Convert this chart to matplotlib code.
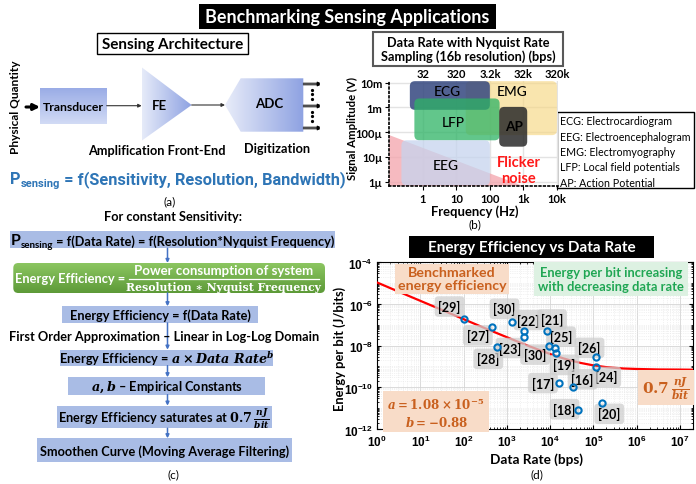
import numpy as np
import matplotlib
matplotlib.use('Agg')
import matplotlib.pyplot as plt
from matplotlib.patches import Rectangle, Polygon, FancyBboxPatch
from matplotlib.colors import LinearSegmentedColormap
from matplotlib.ticker import FixedLocator, FuncFormatter, NullFormatter

plt.rcParams['font.family'] = ['Lato', 'DejaVu Sans']
plt.rcParams['mathtext.fontset'] = 'custom'
plt.rcParams['mathtext.rm'] = 'DejaVu Serif:bold'
plt.rcParams['mathtext.it'] = 'DejaVu Serif:italic:bold'
plt.rcParams['mathtext.bf'] = 'Liberation Sans:bold'

# ---- (b) signal ranges ----
signals = ['EMG', 'ECG', 'LFP', 'AP', 'EEG']
freq_lo = [19, 0.41, 0.56, 190, 0.23]
freq_hi = [1.0e4, 100, 195, 1300, 100]
amp_lo = [7.6e-5, 8.0e-4, 4.7e-5, 2.6e-5, 7.2e-7]
amp_hi = [1.15e-2, 1.15e-2, 2.3e-3, 1.05e-3, 4.7e-5]
noise_f = [0.1, 0.1, 1000]
noise_amp = [7.6e-5, 6.9e-7, 6.9e-7]
freq_ticks = [1, 10, 100, 1000, 10000]
freq_labels = ['1', '10', '100', '1k', '10k']
amp_ticks = [1e-6, 1e-5, 1e-4, 1e-3, 1e-2]
amp_labels = ['1µ', '10µ', '100µ', '1m', '10m']
rate_ticks = [32, 320, 3200, 32000, 320000]
rate_labels = ['32', '320', '3.2k', '32k', '320k']
legend_lines = ['ECG: Electrocardiogram', 'EEG: Electroencephalogram', 'EMG: Electromyography',
                'LFP: Local field potentials', 'AP: Action Potential']

# ---- (d) benchmark points ----
refs = ['[29]', '[27]', '[28]', '[30]', '[22]', '[23]', '[21]', '[30]', '[25]', '[19]',
        '[26]', '[24]', '[17]', '[16]', '[18]', '[20]']
data_rate = [100, 450, 600, 1350, 2550, 2550, 8500, 9500, 13000, 14000,
             1.12e5, 1.16e5, 1.6e4, 3.3e4, 4.3e4, 1.6e5]
energy = [2e-7, 7.5e-8, 8.7e-9, 1.4e-7, 5e-8, 2.6e-8, 4.8e-8, 1e-8, 8e-9, 4.5e-9,
          2.9e-9, 9.5e-10, 1.6e-10, 1e-10, 8e-12, 1.8e-11]
curve_rate = [1, 3.16, 10, 31.6, 100, 316, 1e3, 3.16e3, 1e4, 2e4, 3.16e4, 5e4, 1e5, 2e5,
              3.16e5, 5e5, 1e6, 3.16e6, 1e7, 2e7]
curve_energy = [1.08e-5, 3.9e-6, 1.42e-6, 5.2e-7, 1.87e-7, 6.8e-8, 2.54e-8, 9.7e-9, 3.96e-9,
                2.47e-9, 1.88e-9, 1.49e-9, 1.13e-9, 9.3e-10, 8.6e-10, 8.0e-10, 7.6e-10,
                7.2e-10, 7.1e-10, 7.0e-10]

W, H = 696, 485
fig = plt.figure(figsize=(W / 100, H / 100), dpi=100)
ax0 = fig.add_axes([0, 0, 1, 1])
ax0.axis('off')


def fbox(x0, y0, x1, y1):
    return [x0 / W, 1 - y1 / H, (x1 - x0) / W, (y1 - y0) / H]


def gradient_fill(patch, extent, c0, c1, vertical=False):
    ax0.add_patch(patch)
    g = np.linspace(0, 1, 200)
    img = g[:, None] if vertical else g[None, :]
    im = ax0.imshow(img, cmap=LinearSegmentedColormap.from_list('g', [c0, c1]), extent=extent,
                    origin='lower', aspect='auto', interpolation='bicubic', zorder=1)
    im.set_clip_path(patch)


def arrow(x0, y0, x1, y1, color='#333333', lw=0.8, ms=6):
    ax0.annotate('', xy=(x1, y1), xytext=(x0, y0),
                 arrowprops=dict(arrowstyle='-|>', color=color, lw=lw, mutation_scale=ms,
                                 shrinkA=0, shrinkB=0), zorder=3)


# ---- main title ----
ax0.add_patch(Rectangle((199, 5), 297, 24.5, fc='black', ec='none'))
ax0.text(347.5, 17.5, 'Benchmarking Sensing Applications', color='white', fontsize=12.9,
         weight='bold', ha='center', va='center')

# ---- (a) sensing architecture ----
ax0.add_patch(Rectangle((96.7, 34), 151.6, 21, fc='white', ec='black', lw=1))
ax0.text(172.5, 44.5, 'Sensing Architecture', fontsize=11, weight='bold', ha='center', va='center')

gradient_fill(Rectangle((40, 89), 66.7, 36, fc='none', ec='none'), (40, 106.7, 89, 125),
              '#9AACE6', '#D2DBF5', vertical=True)
ax0.text(73.3, 107.5, 'Transducer', fontsize=8.8, weight='bold', ha='center', va='center', zorder=4)
gradient_fill(Polygon([(141.7, 68.3), (141.7, 141.7), (191.7, 106)], fc='none', ec='none'),
              (141.7, 191.7, 68.3, 141.7), '#E6EBF9', '#8EA2E2')
ax0.text(159.5, 106, 'FE', fontsize=9.5, weight='bold', ha='center', va='center', zorder=4)
gradient_fill(Polygon([(225, 106), (240.7, 79.3), (303.3, 79.3), (303.3, 132.7), (240.7, 132.7)],
                      fc='none', ec='none'),
              (225, 303.3, 79.3, 132.7), '#E8ECF9', '#8EA2E2')
ax0.text(269.5, 104.5, 'ADC', fontsize=9.5, weight='bold', ha='center', va='center', zorder=4)

arrow(26, 108, 40, 108, color='black', lw=2.2, ms=9)
arrow(106.7, 106.7, 141.7, 106.7, lw=0.8, ms=5)
arrow(191.7, 106, 225, 106, lw=0.8, ms=5)
for yy in (85, 107, 129):
    arrow(303.3, yy - 0.8, 320.5, yy - 0.8, color='black', lw=0.7, ms=4)
    arrow(303.3, yy + 0.8, 320.5, yy + 0.8, color='black', lw=0.7, ms=4)
for yy in (90.5, 95, 99.5, 112.5, 117, 121.5):
    ax0.plot(311.7, yy, marker='o', ms=1.3, color='black', zorder=4)

ax0.text(15.5, 107, 'Physical Quantity', rotation=90, fontsize=8.6, weight='bold',
         ha='center', va='center')
ax0.text(156.7, 150.7, 'Amplification Front-End', fontsize=9.2, weight='bold', ha='center', va='center')
ax0.text(277.3, 149.3, 'Digitization', fontsize=9.2, weight='bold', ha='center', va='center')

blue = '#2E75B6'
narrow = ['Roboto', 'DejaVu Sans']
p1 = ax0.text(10, 184, 'P', fontsize=11.8, weight='bold', color=blue, va='baseline', family=narrow)
p2 = ax0.annotate('sensing', xy=(1, 187.5), xycoords=(p1, 'data'), fontsize=8, weight='bold',
                  color=blue, va='baseline', family=narrow)
ax0.annotate(' = f(Sensitivity, Resolution, Bandwidth)', xy=(1, 184), xycoords=(p2, 'data'),
             fontsize=11.8, weight='bold', color=blue, va='baseline', family=narrow)
ax0.text(169.3, 201.7, '(a)', fontsize=8.5, ha='center', va='center')

# ---- (c) flow ----
box_blue = '#A9BCE5'
flow_arrow = '#4472C4'
fs_c = 9.2
ax0.text(173.3, 216.7, 'For constant Sensitivity:', fontsize=fs_c, weight='bold', ha='center', va='center')
ax0.add_patch(Rectangle((10, 231.7), 325, 17.6, fc=box_blue, ec='none'))
c1 = ax0.text(11, 245.5, 'P', fontsize=11.5, weight='bold', va='baseline')
c2 = ax0.annotate('sensing', xy=(1, 248.5), xycoords=(c1, 'data'), fontsize=7, weight='bold',
                  va='baseline')
ax0.annotate(' = f(Data Rate) = f(Resolution*Nyquist Frequency)', xy=(1, 245.5),
             xycoords=(c2, 'data'), fontsize=fs_c, weight='bold', va='baseline')

gradient_fill(FancyBboxPatch((13.3, 264), 311.7, 30, boxstyle='round,pad=0,rounding_size=5',
                             fc='none', ec='none'),
              (13.3, 325, 264, 294), '#8CC661', '#5D9A38', vertical=True)
ax0.text(70, 279.5, 'Energy Efficiency =', fontsize=9.3, weight='bold', color='white',
         ha='center', va='center', zorder=4)
ax0.text(224, 271.5, 'Power consumption of system', fontsize=9.5, weight='bold', color='white',
         ha='center', va='center', zorder=4)
ax0.plot([129, 318.5], [280.3, 280.3], color='white', lw=0.9, zorder=4)
ax0.text(223, 288, 'Resolution ∗ Nyquist Frequency', fontsize=7.8, weight='bold', color='white',
         ha='center', va='center', zorder=4, family=['DejaVu Serif'])

boxes_c = [
    ((61.7, 307.3, 258.3, 324), 'Energy Efficiency = f(Data Rate)'),
    ((60, 350.7, 273.3, 366.7), r'Energy Efficiency = $a\times Data\ Rate^{b}$'),
    ((68.3, 378.3, 265, 395.7), r'$a,b$ – Empirical Constants'),
    ((56.7, 406.7, 271.7, 429.3), r'Energy Efficiency saturates at $0.7\,\frac{nJ}{bit}$'),
    ((36.7, 439.3, 291.7, 463.3), 'Smoothen Curve (Moving Average Filtering)'),
]
for (x0, y0, x1, y1), txt in boxes_c:
    ax0.add_patch(Rectangle((x0, y0), x1 - x0, y1 - y0, fc=box_blue, ec='none'))
    ax0.text((x0 + x1) / 2, (y0 + y1) / 2 + 0.5, txt, fontsize=fs_c, weight='bold',
             ha='center', va='center', zorder=4)
ax0.text(164, 336.7, 'First Order Approximation – Linear in Log-Log Domain', fontsize=fs_c,
         weight='bold', ha='center', va='center', zorder=4)
for ya, yb in [(249.3, 264), (294, 307.3), (324, 350.7), (366.7, 378.3), (395.7, 406.7), (429.3, 439.3)]:
    arrow(167.5, ya, 167.5, yb, color=flow_arrow, lw=1.1, ms=5)
ax0.text(173.3, 475, '(c)', fontsize=8.5, ha='center', va='center')

# ---- (b) signal chart ----
ax0.add_patch(Rectangle((373.3, 33.3), 189.4, 33.4, fc='white', ec='#595959', lw=1.5))
ax0.text(468, 50, 'Data Rate with Nyquist Rate\nSampling (16b resolution) (bps)', fontsize=9.2,
         weight='bold', ha='center', va='center', linespacing=1.2)

axb = fig.add_axes(fbox(389.3, 81.7, 558.3, 186.7))
axb.set_xscale('log')
axb.set_yscale('log')
axb.set_xlim(0.1, 1.1e4)
axb.set_ylim(6.9e-7, 1.2e-2)
axb.grid(True, which='major', color='#E3E3E3', lw=1)
axb.set_axisbelow(True)
for s in ('top', 'right'):
    axb.spines[s].set_visible(False)
for s in ('left', 'bottom'):
    axb.spines[s].set_linestyle(':')
    axb.spines[s].set_linewidth(1.2)
axb.xaxis.set_major_locator(FixedLocator(freq_ticks))
axb.set_xticklabels(freq_labels)
axb.yaxis.set_major_locator(FixedLocator(amp_ticks))
axb.set_yticklabels(amp_labels)
axb.xaxis.set_minor_formatter(NullFormatter())
axb.yaxis.set_minor_formatter(NullFormatter())
axb.tick_params(which='minor', length=0)
axb.tick_params(which='major', labelsize=8, length=3, pad=2)
for lab in axb.get_xticklabels() + axb.get_yticklabels():
    lab.set_fontweight('bold')

axb.fill(noise_f, noise_amp, color='#F4A3AB', alpha=0.75, lw=0, zorder=1)

sig_colors = ['#F7D783', '#34477F', '#2DB365', '#2B2B2B', '#C6D4EE']
sig_alpha = [0.65, 0.85, 0.75, 0.85, 0.75]
asp = 169 / 105
trans_in = axb.transAxes.inverted()
for i in range(len(signals)):
    (x0, y0), (x1, y1) = trans_in.transform(axb.transData.transform(
        [(freq_lo[i], amp_lo[i]), (freq_hi[i], amp_hi[i])]))
    axb.add_patch(FancyBboxPatch((x0, y0), x1 - x0, y1 - y0,
                                 boxstyle='round,pad=0,rounding_size=0.03', mutation_aspect=asp,
                                 transform=axb.transAxes, fc=sig_colors[i], alpha=sig_alpha[i],
                                 ec='none', zorder=2))
label_pos = {'ECG': (5.5, 4.6e-3), 'EMG': (460, 4.6e-3), 'LFP': (8, 2.7e-4),
             'AP': (510, 1.7e-4), 'EEG': (4.7, 4.7e-6)}
for name, (fx, fy) in label_pos.items():
    axb.text(fx, fy, name, fontsize=9.8, ha='center', va='center', zorder=5,
             weight='bold' if name == 'AP' else 'medium')
axb.text(720, 2.9e-6, 'Flicker\nnoise', color='#FF1A1A', fontsize=10.5, weight='bold',
         ha='center', va='center', zorder=5, linespacing=1.15)

top = axb.secondary_xaxis('top', functions=(lambda f: f * 32, lambda r: r / 32))
top.xaxis.set_major_locator(FixedLocator(rate_ticks))
top.set_xticklabels(rate_labels)
top.xaxis.set_minor_formatter(NullFormatter())
top.tick_params(which='both', length=0, labelsize=8, pad=1)
for lab in top.get_xticklabels():
    lab.set_fontweight('bold')
top.spines['top'].set_visible(False)

ax0.text(352.5, 128, 'Signal Amplitude (V)', rotation=90, fontsize=8.2, weight='bold',
         ha='center', va='center')
ax0.text(475, 211.7, 'Frequency (Hz)', fontsize=9.4, weight='bold', ha='center', va='center')
ax0.text(475, 224.5, '(b)', fontsize=8.5, ha='center', va='center')

ax0.add_patch(Rectangle((557.3, 113.3), 137, 76, fc='white', ec='black', lw=1))
for k, line in enumerate(legend_lines):
    ax0.text(559.5, 121.7 + k * 15.4, line, fontsize=7.7, ha='left', va='center')

# ---- (d) energy efficiency ----
ax0.add_patch(Rectangle((409, 237), 245, 22, fc='black', ec='none'))
ax0.text(531.5, 248, 'Energy Efficiency vs Data Rate', color='white', fontsize=11,
         weight='bold', ha='center', va='center')

axd = fig.add_axes(fbox(377, 263.3, 693, 430))
axd.set_xscale('log')
axd.set_yscale('log')
axd.set_xlim(1, 2e7)
axd.set_ylim(1e-12, 1e-4)
axd.xaxis.set_major_locator(FixedLocator([10.0 ** k for k in range(8)]))
axd.yaxis.set_major_locator(FixedLocator([10.0 ** k for k in range(-12, -3, 2)]))
axd.yaxis.set_minor_locator(FixedLocator([m * 10.0 ** k for k in range(-12, -4) for m in range(1, 10)
                                          if not (m == 1 and k % 2 == 0)]))
axd.xaxis.set_major_formatter(FuncFormatter(lambda v, p: r'$\mathbf{10^{%d}}$' % round(np.log10(v))))
axd.yaxis.set_major_formatter(FuncFormatter(lambda v, p: r'$\mathbf{10^{%d}}$' % round(np.log10(v))))
axd.xaxis.set_minor_formatter(NullFormatter())
axd.yaxis.set_minor_formatter(NullFormatter())
axd.tick_params(which='both', direction='in', top=True, right=True)
axd.tick_params(which='major', labelsize=8.5, length=3, pad=3)
axd.tick_params(which='minor', length=1.5)
axd.grid(True, which='major', color='#D5D5D5', lw=0.6)
axd.grid(True, which='minor', color='#E6E6E6', lw=0.5, ls=':')
for s in axd.spines.values():
    s.set_linewidth(0.8)

axd.plot(curve_rate, curve_energy, color='#FF0000', lw=1.6, zorder=4)
axd.plot(data_rate, energy, 'o', mfc='none', mec='#0072BD', ms=4.5, mew=1.5, zorder=6)

label_offsets = [(-14, 12), (-14, -8), (-9, -12), (-8, 13), (4, 11), (-14, -11), (5, 12), (-14, -9),
                 (6, 11), (8, -12), (-6, 9), (10, -10), (-16, 0), (10, 8), (-13, 1), (7, -11)]
for r, x, y, off in zip(refs, data_rate, energy, label_offsets):
    axd.annotate(r, xy=(x, y), xytext=off, textcoords='offset pixels', fontsize=9,
                 weight='bold', ha='center', va='center', zorder=5,
                 bbox=dict(boxstyle='round,pad=0.3', fc='#CFCFCF', ec='none', alpha=0.75))

orange = '#C9601E'
axd.text(0.237, 0.9, 'Benchmarked\nenergy efficiency', transform=axd.transAxes, color=orange,
         fontsize=10.2, weight='bold', ha='center', va='center', zorder=7, linespacing=1.1,
         bbox=dict(boxstyle='square,pad=0.2', fc='#F8DCC8', ec='none'))
axd.text(0.74, 0.9, 'Energy per bit increasing\nwith decreasing data rate', transform=axd.transAxes,
         color='#1FA653', fontsize=9.3, weight='bold', ha='center', va='center', zorder=7,
         linespacing=1.15, bbox=dict(boxstyle='square,pad=0.3', fc='#DDF1E2', ec='none'))
axd.text(0.187, 0.105, r'$a = 1.08\times10^{-5}$' + '\n' + r'$b = -0.88$', transform=axd.transAxes,
         color=orange, fontsize=8.6, ha='center', va='center', zorder=7, linespacing=1.3,
         bbox=dict(boxstyle='square,pad=0.35', fc='#F8DCC8', ec='none'))
axd.text(0.915, 0.25, r'$0.7\,\frac{nJ}{bit}$', transform=axd.transAxes, color=orange,
         fontsize=11, ha='center', va='center', zorder=7,
         bbox=dict(boxstyle='square,pad=0.25', fc='#F8DCC8', ec='none'))

ax0.text(340, 349, 'Energy per bit (J/bits)', rotation=90, fontsize=9.3, weight='bold',
         ha='center', va='center')
ax0.text(537, 460, 'Data Rate (bps)', fontsize=9.8, weight='bold', ha='center', va='center')
ax0.text(537, 475, '(d)', fontsize=8.5, ha='center', va='center')

ax0.set_xlim(0, W)
ax0.set_ylim(H, 0)
fig.savefig('out.png', dpi=100)
